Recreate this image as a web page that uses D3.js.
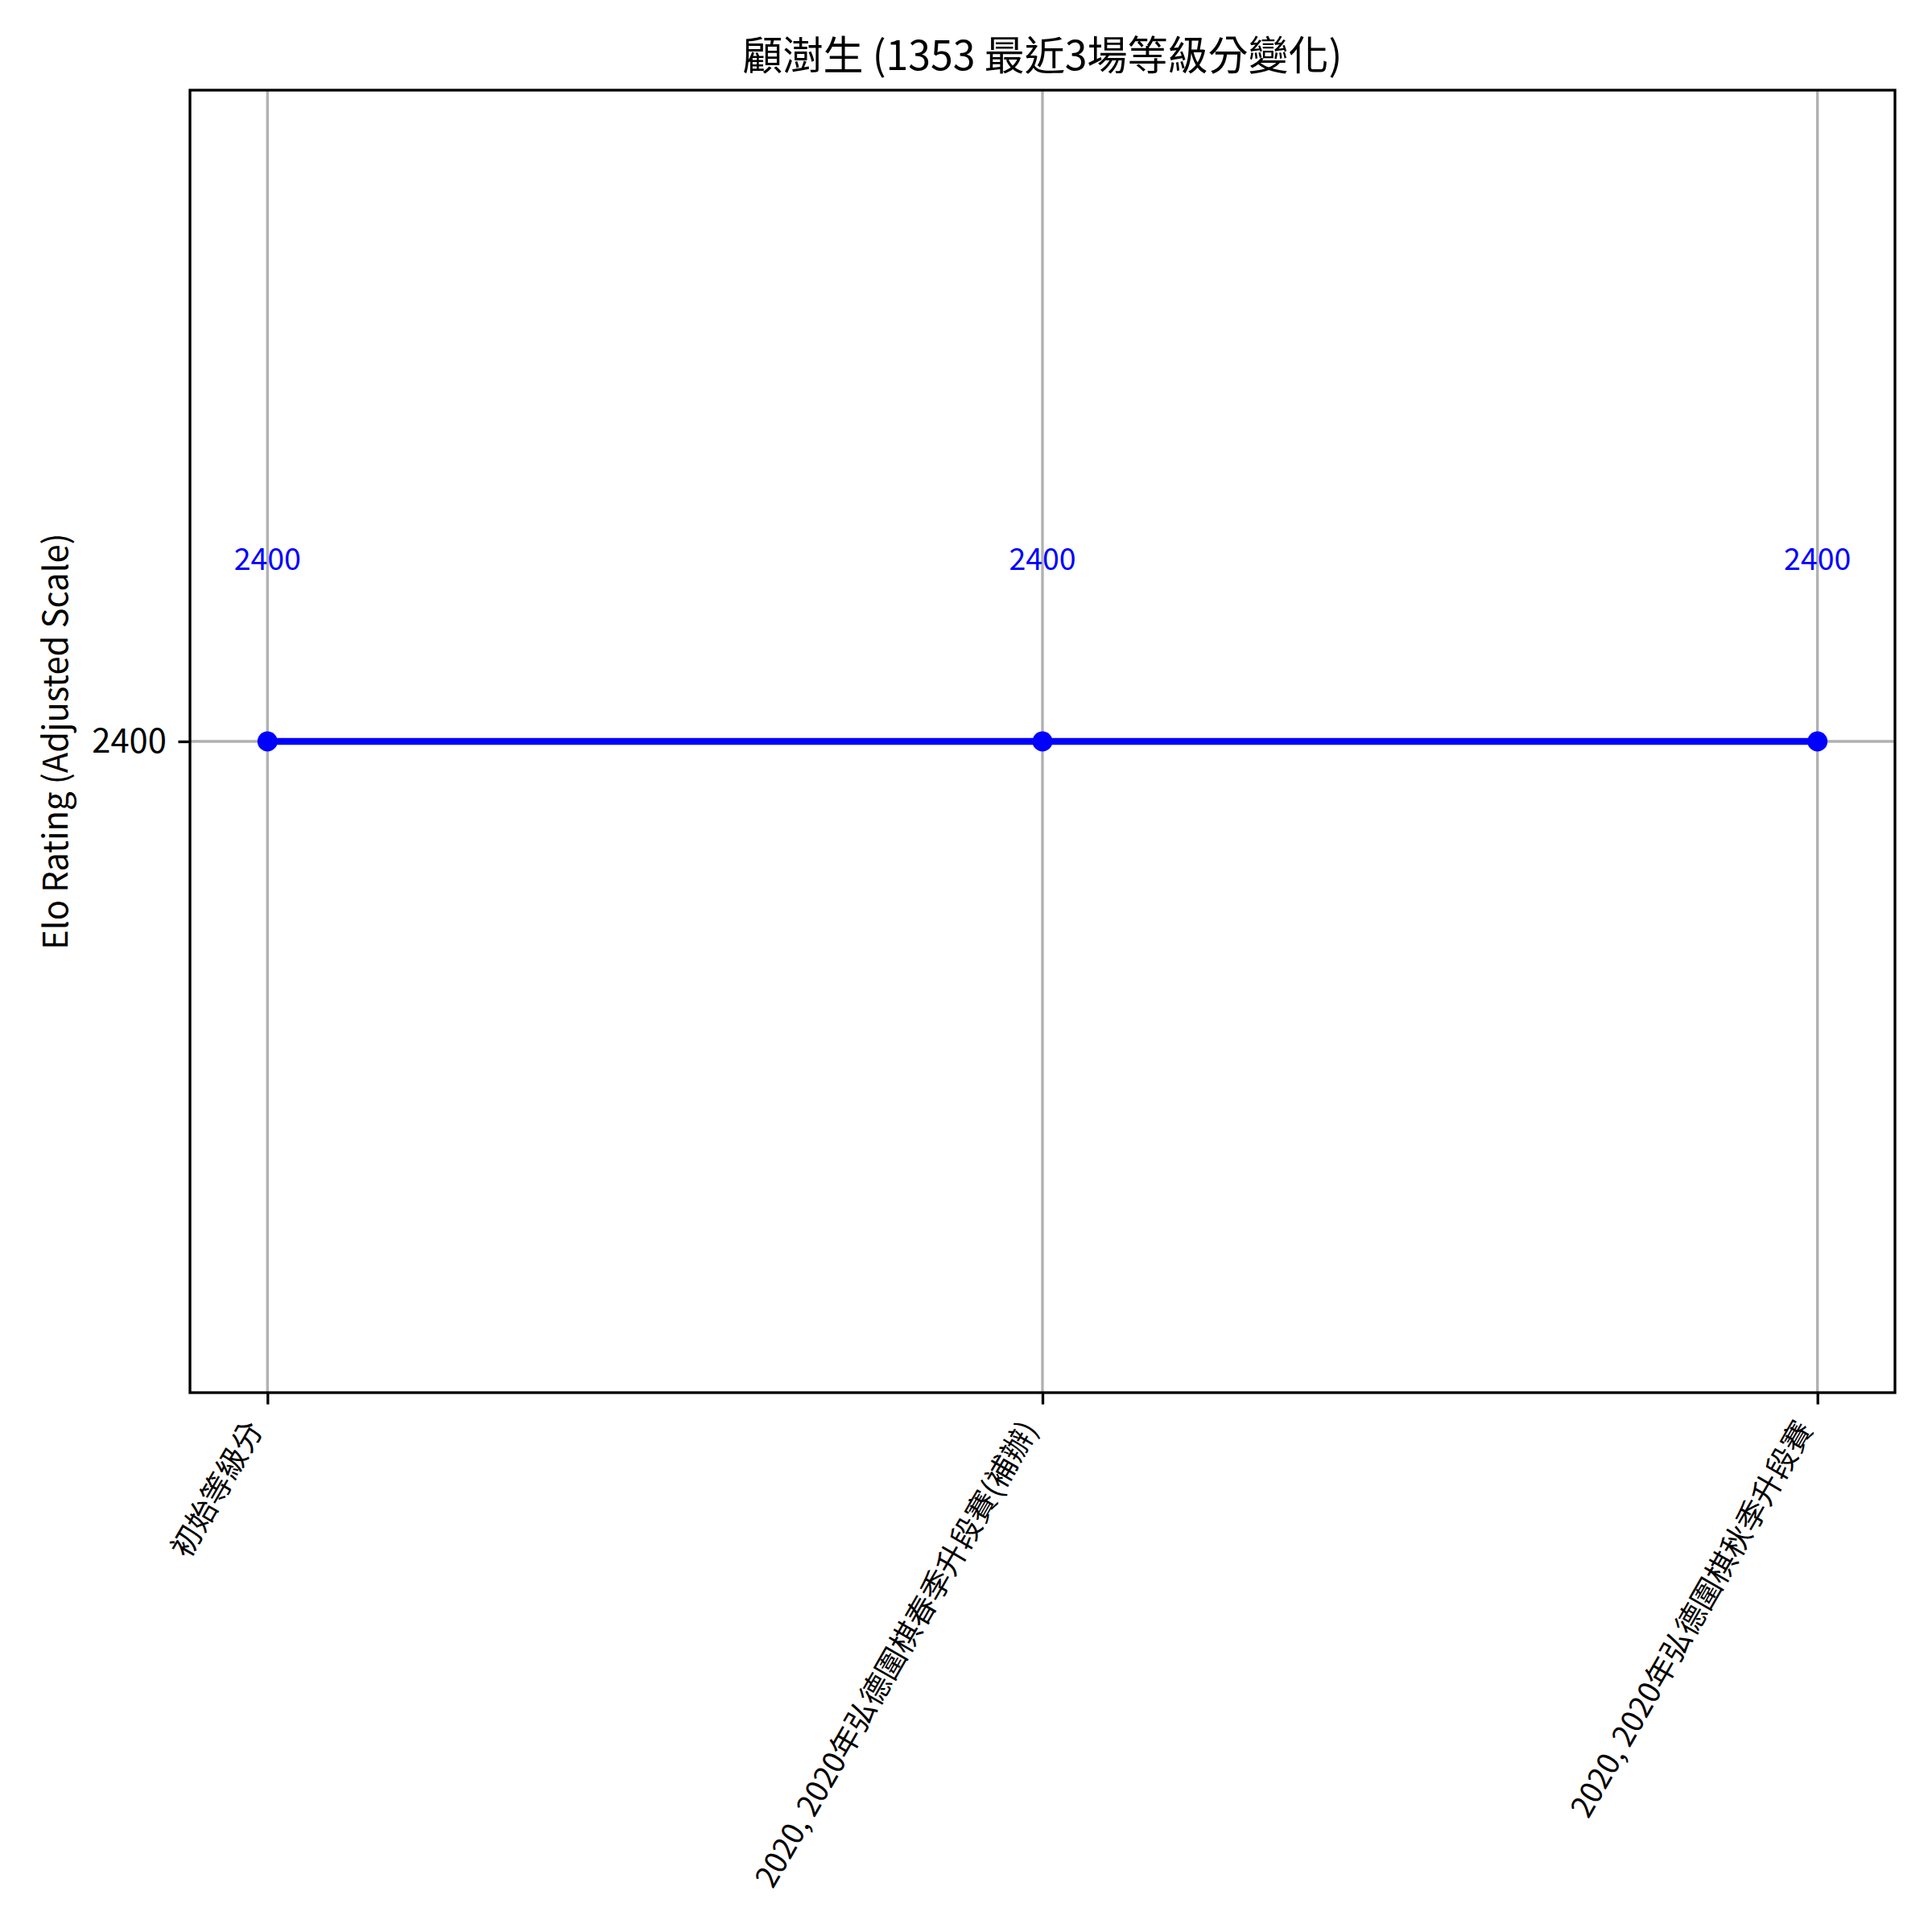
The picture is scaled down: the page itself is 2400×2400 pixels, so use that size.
<!DOCTYPE html>
<html>
<head>
<meta charset="utf-8">
<script src="https://cdn.jsdelivr.net/npm/d3@7"></script>
<style>
  body { margin: 0; background: #fff; }
  text { font-family: "Noto Sans CJK TC", "Noto Sans", sans-serif; }
</style>
</head>
<body>
<script>
// data
var matches = ["初始等級分", "2020, 2020年弘德圍棋春季升段賽(補辦)", "2020, 2020年弘德圍棋秋季升段賽"];
var ratings = [2400, 2400, 2400];
var yTicks = [2400];
var titleText = "顧澍生 (1353 最近3場等級分變化)";
var yLabel = "Elo Rating (Adjusted Scale)";

var width = 2400, height = 2400;
var margin = { left: 236, right: 46, top: 112, bottom: 670 };
var pw = width - margin.left - margin.right;
var ph = height - margin.top - margin.bottom;
var pt = 300 / 72; // px per point

var rows = matches.map(function (m, i) { return { name: m, value: ratings[i] }; });

var svg = d3.select("body").append("svg")
  .attr("width", width)
  .attr("height", height)
  .style("display", "block");

svg.append("rect").attr("width", width).attr("height", height).attr("fill", "#fff");

var g = svg.append("g").attr("transform", "translate(" + margin.left + "," + margin.top + ")");

var x = d3.scalePoint().domain(matches).range([0, pw]).padding(0.1);
var y = d3.scaleLinear().domain([2300, 2500]).range([ph, 0]);
var labelOffset = 28; // rating units above the point

// grid
g.append("g").selectAll("line").data(matches).enter().append("line")
  .attr("x1", function (d) { return x(d); }).attr("x2", function (d) { return x(d); })
  .attr("y1", 0).attr("y2", ph)
  .attr("stroke", "#b0b0b0").attr("stroke-width", 0.8 * pt);
g.append("g").selectAll("line").data(yTicks).enter().append("line")
  .attr("x1", 0).attr("x2", pw)
  .attr("y1", function (d) { return y(d); }).attr("y2", function (d) { return y(d); })
  .attr("stroke", "#b0b0b0").attr("stroke-width", 0.8 * pt);

// line + markers
var line = d3.line()
  .x(function (d) { return x(d.name); })
  .y(function (d) { return y(d.value); });

g.append("path").datum(rows)
  .attr("d", line)
  .attr("fill", "none")
  .attr("stroke", "#0000ff")
  .attr("stroke-width", 2 * pt);

g.selectAll(".pt").data(rows).enter().append("circle")
  .attr("class", "pt")
  .attr("cx", function (d) { return x(d.name); })
  .attr("cy", function (d) { return y(d.value); })
  .attr("r", 3 * pt)
  .attr("fill", "#0000ff");

// value labels
g.selectAll(".vl").data(rows).enter().append("text")
  .attr("class", "vl")
  .attr("x", function (d) { return x(d.name); })
  .attr("y", function (d) { return y(d.value + labelOffset); })
  .attr("dy", "0.35em")
  .attr("text-anchor", "middle")
  .attr("font-size", 9 * pt)
  .attr("fill", "#0000ff")
  .text(function (d) { return d.value; });

// spines
g.append("rect")
  .attr("width", pw).attr("height", ph)
  .attr("fill", "none").attr("stroke", "#000").attr("stroke-width", 0.8 * pt);

// y axis
var yAxis = g.append("g")
  .call(d3.axisLeft(y).tickValues(yTicks).tickSize(3.5 * pt).tickPadding(3.5 * pt).tickFormat(d3.format("d")));
yAxis.select(".domain").remove();
yAxis.selectAll("line").attr("stroke", "#000").attr("stroke-width", 0.8 * pt);
yAxis.selectAll("text").attr("font-size", 10 * pt).attr("fill", "#000")
  .style("font-family", '"Noto Sans CJK TC", sans-serif');

// x axis ticks
var xAxis = g.append("g").attr("transform", "translate(0," + ph + ")")
  .call(d3.axisBottom(x).tickSize(3.5 * pt).tickFormat(""));
xAxis.select(".domain").remove();
xAxis.selectAll("line").attr("stroke", "#000").attr("stroke-width", 0.8 * pt);

// rotated x labels, right/top aligned like matplotlib
var rot = 60;
var fs = 9 * pt;
var lh = fs * 1.0;
var rad = rot * Math.PI / 180;
var topY = ph + 7 * pt;
g.selectAll(".xl").data(matches).enter().append("text")
  .attr("class", "xl")
  .attr("transform", function (d) {
    return "translate(" + (x(d) - lh * Math.sin(rad)) + "," + topY + ") rotate(" + (-rot) + ")";
  })
  .attr("dy", "0.86em")
  .attr("text-anchor", "end")
  .attr("font-size", fs)
  .attr("fill", "#000")
  .text(function (d) { return d; });

// y label
svg.append("text")
  .attr("transform", "translate(69," + (margin.top + ph / 2) + ") rotate(-90)")
  .attr("dy", "0.35em")
  .attr("text-anchor", "middle")
  .attr("font-size", 10 * pt)
  .attr("fill", "#000")
  .text(yLabel);

// title
svg.append("text")
  .attr("x", margin.left + pw / 2)
  .attr("y", 87)
  .attr("text-anchor", "middle")
  .attr("font-size", 12 * pt)
  .attr("fill", "#000")
  .text(titleText);
</script>
</body>
</html>
